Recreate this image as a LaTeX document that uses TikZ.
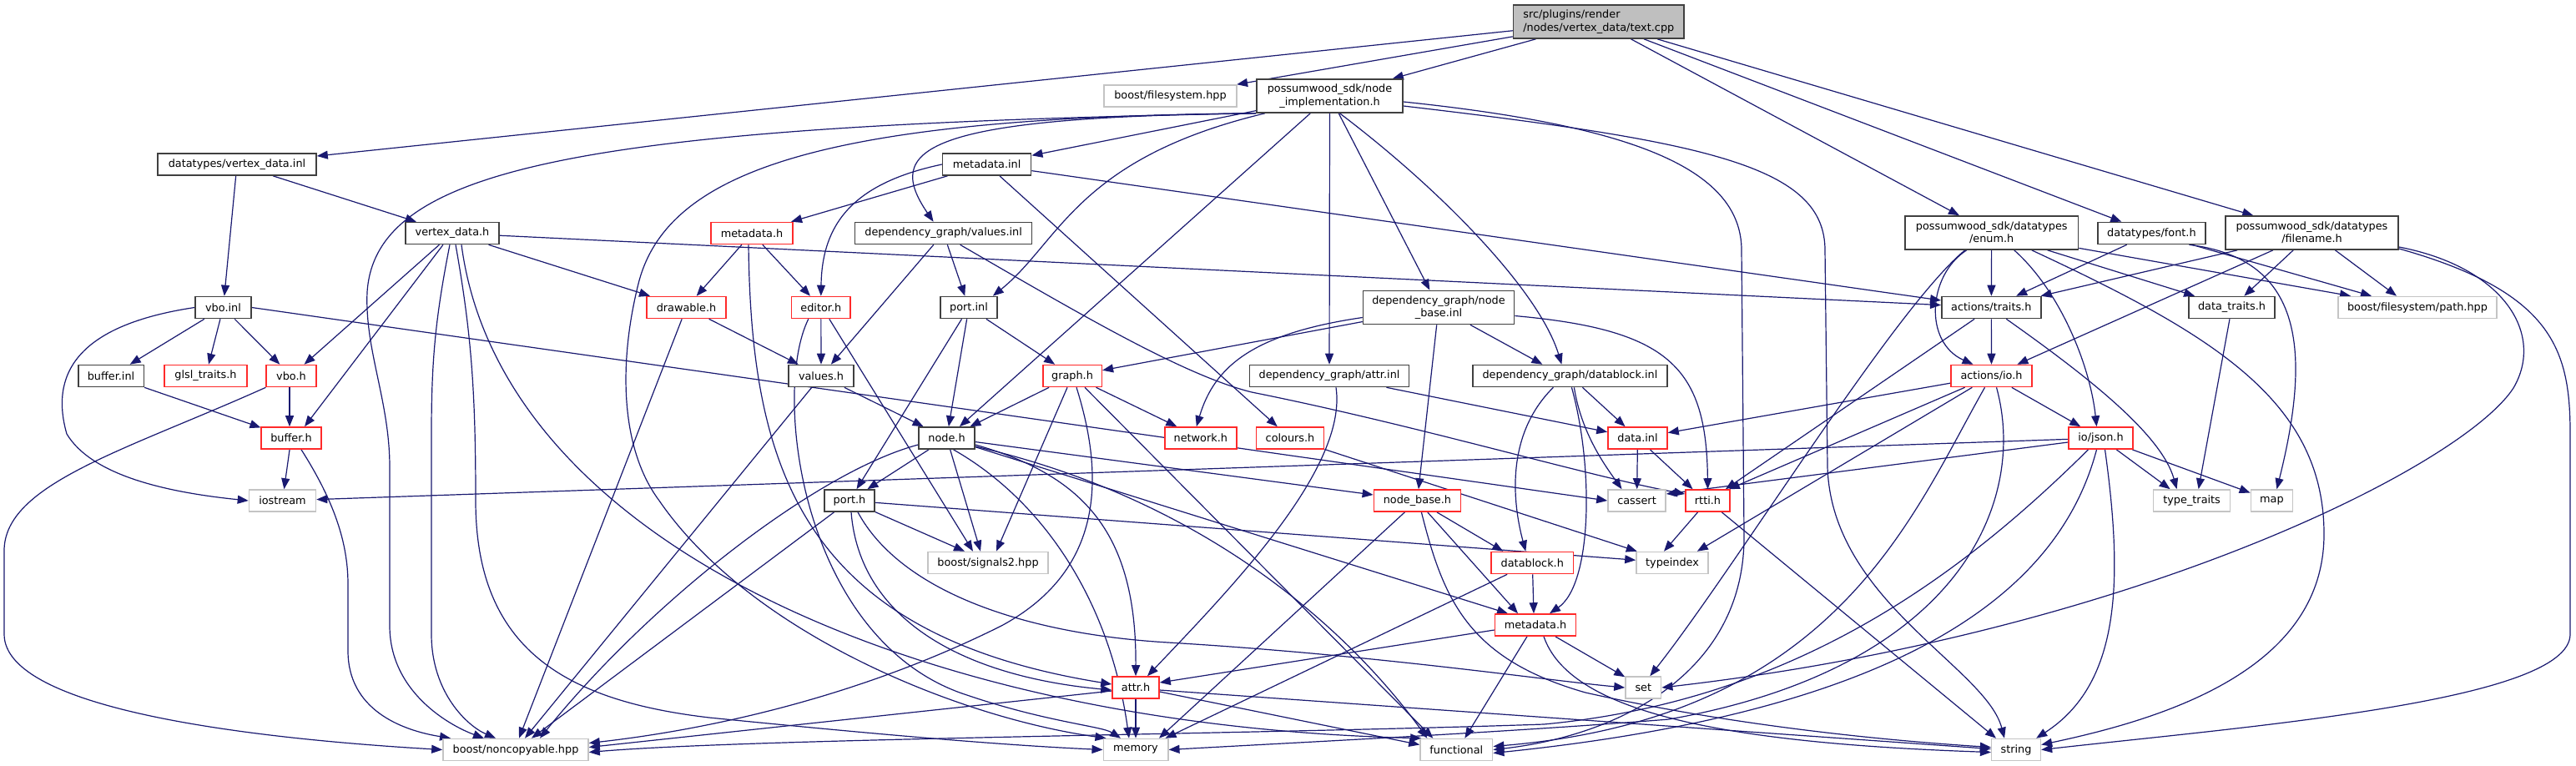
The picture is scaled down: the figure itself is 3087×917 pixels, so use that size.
\documentclass[tikz,border=0pt]{standalone}
\usepackage{fontspec}
\setmainfont{DejaVu Sans}
\usetikzlibrary{arrows.meta,calc}
\definecolor{edgec}{HTML}{191970}
\definecolor{darkb}{HTML}{404040}
\definecolor{redb}{HTML}{FF2A2A}
\definecolor{greyb}{HTML}{C4C4C4}
\definecolor{rootf}{HTML}{BFBFBF}
\pgfdeclarelayer{bg}
\pgfsetlayers{bg,main}
\begin{document}
\begin{tikzpicture}[x=0.5pt,y=-0.5pt,
  base/.style={rectangle, inner sep=0pt, font=\fontsize{6.42}{7.7}\selectfont, minimum height=13pt, line width=0.8pt, fill=white, text=black},
  doc/.style={base, draw=darkb},
  trunc/.style={base, draw=redb},
  ext/.style={base, draw=greyb},
  wd/.style={minimum width=#1*0.5pt},
  two/.style={minimum height=20pt, align=center},
  edg/.style={draw=edgec, line width=0.6pt, -{Triangle[length=6.5pt,width=5pt]}}
]
\begin{pgfonlayer}{bg}
\fill[white] (0,0) rectangle (3087,917);
\end{pgfonlayer}
\useasboundingbox (0,0) rectangle (3087,917);

% ---------- nodes ----------
\node[doc, wd=204.5, two, align=left, fill=rootf] (root) at (1915.8,26) {src/plugins/render\\/nodes/vertex\_data/text.cpp};
\node[ext, wd=159] (bfs) at (1402.5,115) {boost/filesystem.hpp};
\node[doc, wd=175, two] (nimpl) at (1593.5,115) {possumwood\_sdk/node\\\_implementation.h};
\node[doc, wd=190] (vdinl) at (284,197) {datatypes/vertex\_data.inl};
\node[doc, wd=106] (mdinl) at (1182.6,197) {metadata.inl};
\node[doc, wd=112] (vdh) at (542,279.5) {vertex\_data.h};
\node[trunc, wd=97.5] (mdh) at (901,279.5) {metadata.h};
\node[doc, wd=212] (valinl) at (1130.6,279.5) {dependency\_graph/values.inl};
\node[doc, wd=207.5, two] (enum) at (2386.7,279) {possumwood\_sdk/datatypes\\/enum.h};
\node[doc, wd=128.8] (font) at (2578.4,279.5) {datatypes/font.h};
\node[doc, wd=207, two] (filename) at (2770.5,279) {possumwood\_sdk/datatypes\\/filename.h};
\node[doc, wd=67] (vboinl) at (267.5,368.5) {vbo.inl};
\node[trunc, wd=95] (drawable) at (822.5,368.5) {drawable.h};
\node[trunc, wd=70.5] (editor) at (983.8,368.5) {editor.h};
\node[doc, wd=68] (portinl) at (1161,368.5) {port.inl};
\node[doc, wd=181, two] (nbinl) at (1724,368.5) {dependency\_graph/node\\\_base.inl};
\node[doc, wd=119] (traits) at (2386.3,368.5) {actions/traits.h};
\node[doc, wd=103.4] (dtraits) at (2674.5,368.5) {data\_traits.h};
\node[ext, wd=190.4] (path) at (2897,368.5) {boost/filesystem/path.hpp};
\node[doc, wd=78.6] (bufinl) at (133,450.5) {buffer.inl};
\node[trunc, wd=99] (glsl) at (246.5,450.5) {glsl\_traits.h};
\node[trunc, wd=59.5] (vboh) at (349,450.5) {vbo.h};
\node[doc, wd=77.6] (valh) at (984,450.5) {values.h};
\node[trunc, wd=70.6] (graphh) at (1285,450.5) {graph.h};
\node[doc, wd=191] (attrinl) at (1593,450.5) {dependency\_graph/attr.inl};
\node[doc, wd=233] (dbinl) at (1881.4,450.5) {dependency\_graph/datablock.inl};
\node[trunc, wd=97] (ioh) at (2386.5,450.5) {actions/io.h};
\node[trunc, wd=71.5] (bufh) at (349,525) {buffer.h};
\node[doc, wd=67] (nodeh) at (1134.5,525) {node.h};
\node[trunc, wd=86] (network) at (1438.8,525) {network.h};
\node[trunc, wd=81.3] (colours) at (1546,525) {colours.h};
\node[trunc, wd=71] (datainl) at (1962.5,525) {data.inl};
\node[trunc, wd=77] (json) at (2517.5,525) {io/json.h};
\node[ext, wd=80] (iostream) at (338.5,600) {iostream};
\node[doc, wd=60.5] (porth) at (1018,600) {port.h};
\node[trunc, wd=104] (nbh) at (1698.4,600) {node\_base.h};
\node[ext, wd=69] (cassert) at (1961.5,600) {cassert};
\node[trunc, wd=53] (rtti) at (2046.5,600) {rtti.h};
\node[ext, wd=92] (ttraits) at (2626.6,600) {type\_traits};
\node[ext, wd=50] (map) at (2722.4,600) {map};
\node[ext, wd=144] (sig) at (1184,674.5) {boost/signals2.hpp};
\node[trunc, wd=98.6] (dbh) at (1836.3,674.5) {datablock.h};
\node[ext, wd=86] (typeindex) at (2004,674.5) {typeindex};
\node[trunc, wd=97] (mdhdg) at (1840,749) {metadata.h};
\node[trunc, wd=56] (attrh) at (1361,824) {attr.h};
\node[ext, wd=42.6] (set) at (1969.3,824) {set};
\node[ext, wd=174] (noncopy) at (618,898.5) {boost/noncopyable.hpp};
\node[ext, wd=77.4] (memory) at (1361,898.5) {memory};
\node[ext, wd=86.6] (functional) at (1745.3,898.5) {functional};
\node[ext, wd=58.7] (string) at (2416,898.5) {string};

% ---------- edges ----------
\begin{pgfonlayer}{bg}
% root
\draw[edg] (root) -- (vdinl);
\draw[edg] (root) -- (bfs);
\draw[edg] (root) -- (nimpl);
\draw[edg] (root) -- (enum);
\draw[edg] (root) -- (font);
\draw[edg] (root) -- (filename);
% vertex_data.inl
\draw[edg] (vdinl) -- (vboinl);
\draw[edg] (vdinl) -- (vdh);
% vertex_data.h
\draw[edg] (vdh) -- (vboh);
\draw[edg] ($(vdh.south)+(-11,0)$) -- ($(bufh.north)+(16,0)$);
\draw[edg] ($(vdh.south)+(-3,0)$) .. controls (522,380) and (517,430) .. (517,520) -- (517,760) .. controls (517,830) and (560,870) .. ($(noncopy.north)+(-24,0)$);
\draw[edg] ($(vdh.south)+(4,0)$) .. controls (565,400) and (570,470) .. (570,600) .. controls (570,780) and (680,840) .. (850,860) .. controls (1050,880) and (1200,893) .. (memory.west);
\draw[edg] ($(vdh.south)+(11,0)$) .. controls (600,650) and (1100,870) .. ($(functional.north west)+(2,0)$);
\draw[edg] (vdh) -- (drawable);
\draw[edg] (vdh) -- (traits);
% vbo.inl
\draw[edg] (vboinl) -- (bufinl);
\draw[edg] (vboinl) -- (glsl);
\draw[edg] (vboinl) -- (vboh);
\draw[edg] (vboinl.west) .. controls (90,390) and (60,450) .. (80,520) .. controls (110,570) and (200,590) .. (iostream.west);
\draw[edg] (vboinl.east) -- (cassert.west);
% buffer / vbo
\draw[edg] (bufinl) -- (bufh);
\draw[edg] ($(vboh.south)+(-2,0)$) -- ($(bufh.north)+(-2,0)$);
\draw[edg] (vboh.south west) .. controls (150,540) and (5,580) .. (5,660) -- (5,760) .. controls (5,850) and (300,885) .. (noncopy.west);
\draw[edg] (bufh) -- (iostream);
\draw[edg] ($(bufh.south)+(12,0)$) .. controls (400,600) and (417,650) .. (417,700) -- (417,780) .. controls (417,850) and (480,875) .. ($(noncopy.north)+(-78,0)$);
% node_implementation.h
\draw[edg] (nimpl.south west) .. controls (700,150) and (450,200) .. (440,350) .. controls (437,420) and (467,480) .. (467,560) -- (467,750) .. controls (467,830) and (540,870) .. ($(noncopy.north)+(-38,0)$);
\draw[edg] (nimpl.south west) .. controls (1000,140) and (800,200) .. (765,340) .. controls (740,440) and (745,540) .. (790,600) .. controls (900,760) and (1150,860) .. ($(memory.north west)+(4,0)$);
\draw[edg] (nimpl) -- (mdinl);
\draw[edg] (nimpl.south west) .. controls (1100,140) and (1060,180) .. ($(valinl.north)+(-12,0)$);
\draw[edg] (nimpl.-165) .. controls (1290,190) and (1270,290) .. ($(portinl.north east)+(-6,0)$);
\draw[edg] (nimpl) -- (nodeh);
\draw[edg] (nimpl) -- (attrinl);
\draw[edg] (nimpl) -- (nbinl);
\draw[edg] (nimpl.-60) .. controls (1730,230) and (1845,350) .. ($(dbinl.north)+(-10,0)$);
\draw[edg] ($(nimpl.east)+(0,7)$) .. controls (1950,150) and (2087,200) .. (2087,300) -- (2090,640) .. controls (2092,800) and (1950,880) .. (functional.east);
\draw[edg] ($(nimpl.east)+(0,12)$) .. controls (2050,170) and (2187,200) .. (2187,300) -- (2190,560) .. controls (2195,720) and (2380,800) .. ($(string.north)+(-14,0)$);
% metadata.inl
\draw[edg] (mdinl) -- (mdh);
\draw[edg] (mdinl.west) .. controls (1020,220) and (985,270) .. (editor.north);
\draw[edg] (mdinl) -- (colours);
\draw[edg] (mdinl) -- (traits);
% metadata.h (sdk)
\draw[edg] (mdh) -- (drawable);
\draw[edg] (mdh) -- (editor);
\draw[edg] ($(mdh.south)+(-4,0)$) .. controls (900,560) and (960,760) .. ($(attrh.west)+(0,-4)$);
% editor.h
\draw[edg] (editor) -- (valh);
\draw[edg] ($(editor.south)+(10,0)$) -- ($(sig.north)+(-18,0)$);
\draw[edg] ($(editor.south)+(-15,0)$) .. controls (925,470) and (960,760) .. (1150,830) .. controls (1250,865) and (1320,870) .. ($(memory.north)+(-18,0)$);
% values.inl
\draw[edg] (valinl) -- (valh);
\draw[edg] (valinl) -- (portinl);
\draw[edg] ($(valinl.south)+(20,0)$) .. controls (1300,380) and (1420,450) .. (1500,470) .. controls (1700,510) and (1900,570) .. ($(rtti.west)+(0,-8)$);
% drawable.h / values.h
\draw[edg] (drawable) -- (valh);
\draw[edg] (drawable) -- ($(noncopy.north)+(4,0)$);
\draw[edg] (valh) -- (nodeh);
\draw[edg] (valh) -- ($(noncopy.north)+(11,0)$);
% port.inl
\draw[edg] (portinl) -- (porth);
\draw[edg] (portinl) -- (nodeh);
\draw[edg] (portinl) -- (graphh);
% graph.h
\draw[edg] (graphh) -- (nodeh);
\draw[edg] (graphh) -- ($(sig.north)+(10,0)$);
\draw[edg] (graphh) -- (network);
\draw[edg] ($(graphh.south)+(15,0)$) -- ($(functional.north)+(-28,0)$);
\draw[edg] ($(graphh.south)+(5,0)$) .. controls (1320,560) and (1330,680) .. (1200,750) .. controls (1000,850) and (800,880) .. ($(noncopy.east)+(0,-8)$);
% node.h
\draw[edg] (nodeh) -- (porth);
\draw[edg] (nodeh) -- ($(sig.north)+(-9,0)$);
\draw[edg] ($(nodeh.south)+(8,0)$) .. controls (1250,600) and (1330,720) .. ($(memory.north)+(-8,0)$);
\draw[edg] (nodeh) -- (nbh);
\draw[edg] (nodeh) -- ($(mdhdg.north)+(-33,0)$);
\draw[edg] ($(nodeh.east)+(0,8)$) .. controls (1300,570) and (1362,640) .. (attrh.north);
\draw[edg] ($(nodeh.east)+(0,10)$) .. controls (1450,600) and (1620,760) .. ($(functional.north)+(-35,0)$);
\draw[edg] ($(nodeh.west)+(0,8)$) .. controls (980,565) and (780,720) .. ($(noncopy.north)+(29,0)$);
% port.h
\draw[edg] (porth) -- ($(sig.north)+(-28,0)$);
\draw[edg] (porth) -- (typeindex);
\draw[edg] (porth) -- ($(noncopy.north)+(19,0)$);
\draw[edg] ($(porth.south)+(2,0)$) .. controls (1030,740) and (1150,810) .. ($(attrh.west)+(0,3)$);
\draw[edg] ($(porth.south)+(10,0)$) .. controls (1080,710) and (1230,760) .. (1400,770) .. controls (1650,785) and (1850,815) .. (set.west);
% node_base.inl
\draw[edg] (nbinl) -- (graphh);
\draw[edg] ($(nbinl.west)+(0,12)$) .. controls (1500,400) and (1455,440) .. ($(network.north)+(-5,0)$);
\draw[edg] (nbinl) -- (nbh);
\draw[edg] (nbinl) -- ($(dbinl.north)+(-33,0)$);
\draw[edg] ($(nbinl.east)+(0,10)$) .. controls (2000,395) and (2045,440) .. (rtti.north);
% attr.inl
\draw[edg] ($(attrinl.south)+(8,0)$) .. controls (1615,560) and (1480,700) .. ($(attrh.north)+(14,0)$);
\draw[edg] (attrinl) -- (datainl);
% datablock.inl
\draw[edg] ($(dbinl.south)+(-20,0)$) .. controls (1805,520) and (1812,600) .. ($(dbh.north)+(-8,0)$);
\draw[edg] ($(dbinl.south)+(2,0)$) .. controls (1910,560) and (1908,700) .. ($(mdhdg.north)+(17,0)$);
\draw[edg] ($(dbinl.south)+(5,0)$) .. controls (1895,520) and (1925,560) .. ($(cassert.north)+(-18,0)$);
\draw[edg] ($(dbinl.south)+(15,0)$) -- ($(datainl.north)+(-15,0)$);
% data.inl
\draw[edg] (datainl) -- (cassert);
\draw[edg] (datainl) -- ($(rtti.north)+(-18,0)$);
% node_base.h
\draw[edg] (nbh) -- ($(dbh.north)+(-35,0)$);
\draw[edg] (nbh) -- ($(mdhdg.north)+(-21,0)$);
\draw[edg] ($(nbh.south)+(-15,0)$) -- ($(memory.north)+(28,0)$);
\draw[edg] ($(nbh.south)+(5,0)$) .. controls (1730,720) and (1760,790) .. (1900,830) .. controls (2100,875) and (2300,890) .. ($(string.west)+(0,-3)$);
% datablock.h
\draw[edg] (dbh) -- ($(mdhdg.north)+(-2,0)$);
\draw[edg] ($(dbh.south west)+(20,0)$) -- ($(memory.north east)+(-4,0)$);
% metadata.h (dg)
\draw[edg] ($(mdhdg.west)+(0,6)$) -- ($(attrh.east)+(0,-6)$);
\draw[edg] (mdhdg) -- (set);
\draw[edg] ($(mdhdg.south)+(-10,0)$) -- ($(functional.north)+(10,0)$);
\draw[edg] ($(mdhdg.south)+(10,0)$) .. controls (1880,850) and (2050,890) .. ($(string.west)+(0,3)$);
% attr.h
\draw[edg] (attrh) -- (memory);
\draw[edg] ($(attrh.west)+(0,4)$) -- ($(noncopy.east)+(0,-3)$);
\draw[edg] ($(attrh.east)+(0,5)$) -- ($(functional.west)+(0,-6)$);
\draw[edg] ($(attrh.east)+(0,3)$) -- ($(string.west)+(0,-1)$);
% colours.h / rtti.h
\draw[edg] (colours) -- (typeindex);
\draw[edg] (rtti) -- ($(typeindex.north)+(-10,0)$);
\draw[edg] (rtti) -- ($(string.north)+(-24,0)$);
% actions/traits.h
\draw[edg] (traits) -- ($(rtti.north east)+(-6,0)$);
\draw[edg] (traits) -- (ioh);
\draw[edg] ($(traits.south)+(18,0)$) .. controls (2500,450) and (2590,520) .. ($(ttraits.north)+(-18,0)$);
% enum.h
\draw[edg] (enum) -- (traits);
\draw[edg] ($(enum.south)+(-30,0)$) .. controls (2310,330) and (2305,410) .. ($(ioh.north)+(-22,0)$);
\draw[edg] ($(enum.south)+(-32,0)$) .. controls (2270,370) and (2080,680) .. ($(set.north)+(8,0)$);
\draw[edg] ($(enum.south)+(27,0)$) .. controls (2470,350) and (2505,440) .. ($(json.north)+(-5,0)$);
\draw[edg] ($(enum.south)+(48,0)$) .. controls (2650,400) and (2785,480) .. (2785,640) .. controls (2785,800) and (2600,860) .. ($(string.east)+(0,-6)$);
\draw[edg] (enum) -- (dtraits);
\draw[edg] (enum) -- ($(path.north)+(-80,0)$);
% font.h
\draw[edg] (font) -- (traits);
\draw[edg] (font) -- ($(path.north)+(-55,0)$);
\draw[edg] ($(font.south)+(45,0)$) .. controls (2760,310) and (2770,420) .. ($(map.north)+(6,0)$);
% filename.h
\draw[edg] (filename) -- (traits);
\draw[edg] (filename) -- (ioh);
\draw[edg] (filename) -- (dtraits);
\draw[edg] (filename) -- ($(path.north)+(-25,0)$);
\draw[edg] ($(filename.east)+(0,17)$) .. controls (3000,320) and (3050,400) .. (3012,465) .. controls (2950,560) and (2550,760) .. (set.east);
\draw[edg] ($(filename.east)+(0,19)$) .. controls (3060,350) and (3080,420) .. (3080,520) -- (3080,760) .. controls (3080,840) and (2700,870) .. (string.east);
% data_traits.h
\draw[edg] (dtraits) -- ($(ttraits.north)+(8,0)$);
% actions/io.h
\draw[edg] (ioh) -- (datainl);
\draw[edg] (ioh) -- ($(rtti.north east)+(-2,0)$);
\draw[edg] (ioh) -- ($(typeindex.north east)+(-14,0)$);
\draw[edg] (ioh) -- (json);
\draw[edg] ($(ioh.south)+(-8,0)$) .. controls (2290,620) and (2200,860) .. ($(functional.east)+(0,-4)$);
\draw[edg] ($(ioh.south)+(6,0)$) .. controls (2430,600) and (2350,800) .. (2000,862) .. controls (1800,878) and (1550,890) .. (memory.east);
% io/json.h
\draw[edg] (json) -- (iostream);
\draw[edg] ($(json.west)+(0,5)$) -- ($(cassert.east)+(0,-8)$);
\draw[edg] (json) -- ($(ttraits.north)+(-26,0)$);
\draw[edg] (json) -- (map);
\draw[edg] ($(json.south)+(5,0)$) .. controls (2545,700) and (2540,820) .. ($(string.north east)+(-6,0)$);
\draw[edg] ($(json.south)+(-5,0)$) .. controls (2470,700) and (2300,850) .. ($(functional.east)+(0,4)$);
\draw[edg] ($(json.south)+(-15,0)$) .. controls (2350,690) and (2150,840) .. (1850,868) .. controls (1500,880) and (900,885) .. ($(noncopy.east)+(0,3)$);
\end{pgfonlayer}
\end{tikzpicture}
\end{document}
